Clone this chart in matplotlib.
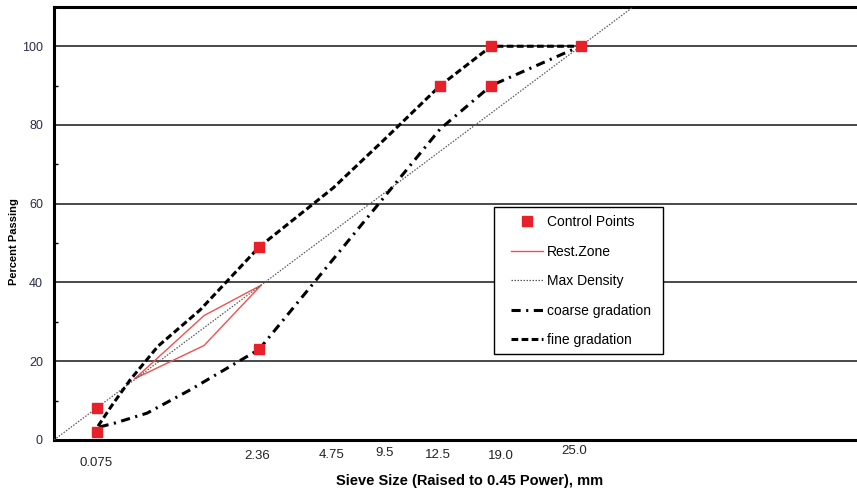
import matplotlib
matplotlib.use("Agg")
import matplotlib.pyplot as plt
from matplotlib.patches import Rectangle
from matplotlib.ticker import MultipleLocator

plt.rcParams['font.family'] = ['Liberation Sans', 'DejaVu Sans']

# x values are sieve sizes raised to 0.45 power, as placed on the chart
ctrl_x = [0.35, 0.35, 1.66, 1.66, 3.13, 3.54, 3.54, 4.27]
ctrl_y = [2, 8, 23, 49, 90, 90, 100, 100]

rest_x = [0.657, 1.217, 1.679, 1.217, 0.657]
rest_y = [15.6, 31.6, 39.3, 24.0, 15.6]

maxd_x = [0, 4.696]
maxd_y = [0, 110]

coarse_x = [0.37, 0.495, 0.754, 1.103, 1.663, 3.131, 3.544, 4.266]
coarse_y = [3.3, 4.3, 6.8, 12.7, 23, 79, 90, 100]

fine_x = [0.357, 0.470, 0.616, 0.843, 1.184, 1.663, 2.263, 2.668, 3.131, 3.544, 4.266]
fine_y = [3.5, 8.8, 15.2, 23.8, 33, 49, 64, 76, 90, 100, 100]

sieve_pos = [0.34, 1.65, 2.25, 2.68, 3.11, 3.62, 4.22]
sieve_labels = ["0.075", "2.36", "4.75", "9.5", "12.5", "19.0", "25.0"]
label_drop = [-0.053, -0.037, -0.035, -0.030, -0.035, -0.037, -0.026]

fig = plt.figure(figsize=(8.57, 4.91), dpi=100)
ax = fig.add_axes([0.063, 0.104, 0.937, 0.882])

ax.plot(ctrl_x, ctrl_y, linestyle='none', marker='s', markersize=6.8,
        color='#e8202a', label='Control Points', zorder=5)
ax.plot(rest_x, rest_y, color='#f05050', lw=1.0, label='Rest.Zone', zorder=3)
ax.plot(maxd_x, maxd_y, color='#5a5a5a', lw=0.9, linestyle=(0, (1.2, 1.2)),
        label='Max Density', zorder=3)
ax.plot(coarse_x, coarse_y, color='black', lw=2.2,
        linestyle=(0, (3.0, 1.8, 0.7, 1.8)), label='coarse gradation', zorder=4)
ax.plot(fine_x, fine_y, color='black', lw=2.2,
        linestyle=(0, (2.2, 1.1)), label='fine gradation', zorder=4)

ax.set_xlim(0, 6.51)
ax.set_ylim(0, 110)

# horizontal grid lines
for yv in [20, 40, 60, 80, 100]:
    ax.axhline(yv, color='#3a3a3a', lw=1.3, zorder=1)

ax.set_yticks([0, 20, 40, 60, 80, 100])
ax.yaxis.set_minor_locator(MultipleLocator(10))
ax.tick_params(axis='y', which='major', length=0, pad=8, labelsize=9,
               labelcolor='#2b2b4a')
ax.tick_params(axis='y', which='minor', direction='in', length=3, width=1)
ax.set_xticks([])

for p, lab, dy in zip(sieve_pos, sieve_labels, label_drop):
    ax.text(p, dy, lab, transform=ax.get_xaxis_transform(), ha='center',
            va='center', fontsize=9.5, color='#222222')

for s in ['left', 'bottom', 'top']:
    ax.spines[s].set_linewidth(2.2)
ax.spines['right'].set_visible(False)

ax.set_ylabel("Percent Passing", fontsize=8, fontweight='bold')
ax.yaxis.set_label_coords(-0.043, 0.457)
ax.set_xlabel("Sieve Size (Raised to 0.45 Power), mm", fontsize=10.5,
              fontweight='bold')
ax.xaxis.set_label_coords(0.518, -0.078)

# legend box drawn by hand so the inner padding matches
box = Rectangle((494 / 857, 1 - 354 / 491), 169 / 857, 147 / 491,
                transform=fig.transFigure, facecolor='white',
                edgecolor='black', lw=1.0, zorder=6, clip_on=False)
ax.add_patch(box)
leg = ax.legend(loc='upper left', bbox_to_anchor=(511 / 857, 1 - 215 / 491),
                bbox_transform=fig.transFigure, fontsize=10, numpoints=1,
                frameon=False, handlelength=2.3, handletextpad=0.3,
                labelspacing=1.12, borderpad=0, borderaxespad=0)
leg.set_zorder(10)

fig.savefig("out.png", dpi=100)
